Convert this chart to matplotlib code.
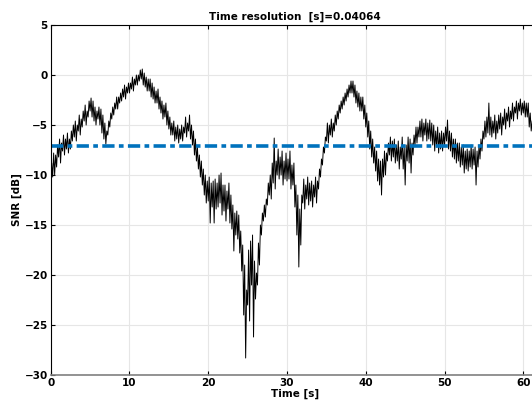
import matplotlib
matplotlib.use("Agg")
import matplotlib.pyplot as plt
import numpy as np

# SNR per 0.25 s frame: upper and lower extremes of the fine-resolution estimate
dt = 0.25
snr_hi = [
    -8.8, -7.8, -8.0, -7.0,   -6.4, -6.8, -6.0, -6.4,
    -5.8, -6.4, -5.6, -5.0,   -4.6, -5.0, -4.0, -4.4,
    -3.6, -3.0, -3.6, -2.6,   -2.3, -2.6, -3.2, -3.6,
    -3.2, -3.4, -4.0, -4.8,   -5.6, -4.6, -3.8, -3.2,
    -2.8, -2.2, -2.2, -1.8,   -1.4, -1.0, -1.2, -0.8,
    -0.8, -0.2, -0.4, 0.0,    0.0, 0.5, 0.6, 0.2,
    -0.2, -0.4, -0.4, -0.8,   -1.2, -1.6, -1.4, -2.2,
    -2.6, -3.0, -2.8, -3.6,   -4.2, -4.8, -4.6, -5.2,
    -5.0, -5.4, -5.0, -5.2,   -4.2, -4.8, -4.0, -5.0,
    -5.6, -6.4, -7.2, -8.0,   -8.6, -9.4, -10.0, -10.6,
    -10.2, -10.8, -10.6, -10.4,   -10.8, -10.0, -9.8, -11.0,
    -11.0, -11.6, -10.8, -12.0,   -13.0, -13.8, -13.6, -14.0,
    -15.6, -17.0, -19.0, -21.5,   -17.5, -16.6, -16.0, -18.6,
    -19.8, -16.8, -15.0, -13.8,   -13.0, -12.4, -10.8, -10.0,
    -8.8, -6.3, -8.6, -7.4,   -8.2, -7.6, -8.6, -7.8,
    -8.4, -7.6, -9.0, -8.8,   -11.0, -12.0, -13.4, -12.0,
    -10.4, -11.0, -10.2, -10.8,   -10.6, -11.0, -10.2, -10.6,
    -9.4, -8.4, -7.2, -6.2,   -4.8, -5.0, -4.4, -4.8,
    -4.0, -3.6, -3.0, -2.6,   -2.2, -1.8, -1.4, -1.0,
    -0.6, -0.6, -1.0, -1.6,   -1.8, -2.2, -2.2, -3.0,
    -3.8, -4.6, -5.6, -6.4,   -7.2, -7.6, -8.4, -8.6,
    -8.4, -7.6, -7.8, -6.8,   -6.2, -6.6, -6.4, -7.0,
    -6.6, -7.2, -6.2, -7.2,   -7.0, -6.2, -6.4, -6.8,
    -6.0, -5.2, -5.2, -4.6,   -4.4, -4.8, -4.4, -4.8,
    -4.5, -4.8, -5.0, -5.6,   -5.2, -5.8, -5.6, -5.8,
    -5.2, -4.5, -5.6, -5.8,   -6.4, -6.4, -6.8, -6.8,
    -7.2, -7.0, -7.6, -7.4,   -7.6, -7.0, -7.4, -7.2,
    -7.6, -7.0, -6.4, -5.6,   -4.6, -4.2, -2.8, -4.2,
    -4.6, -4.0, -4.6, -4.0,   -3.8, -4.2, -3.4, -3.8,
    -3.2, -3.6, -2.8, -3.2,   -2.6, -2.8, -2.4, -2.8,
    -2.6, -2.8, -2.8, -3.8,   -4.6,
]
snr_lo = [
    -11.2, -10.2, -10.0, -9.2,   -8.2, -8.8, -7.6, -8.0,
    -7.4, -7.8, -7.4, -6.6,   -6.2, -6.6, -5.6, -6.0,
    -5.2, -4.6, -5.0, -4.2,   -3.6, -4.2, -4.6, -5.0,
    -4.4, -5.0, -5.8, -6.4,   -6.9, -6.0, -5.2, -4.4,
    -4.0, -3.4, -3.4, -2.8,   -2.6, -2.2, -2.4, -1.8,
    -1.8, -1.4, -1.6, -1.0,   -1.0, -0.6, -0.4, -1.0,
    -1.2, -1.6, -1.6, -2.2,   -2.4, -2.8, -2.8, -3.4,
    -3.8, -4.4, -4.2, -5.0,   -5.4, -6.0, -6.0, -6.6,
    -6.4, -6.8, -6.4, -6.6,   -5.8, -6.2, -5.6, -6.4,
    -7.0, -8.0, -8.6, -9.4,   -10.2, -11.0, -12.0, -12.8,
    -12.6, -14.8, -13.2, -14.8,   -13.4, -13.2, -12.8, -14.0,
    -13.6, -14.6, -13.4, -14.8,   -15.4, -17.6, -16.0, -16.4,
    -17.8, -19.6, -24.0, -28.3,   -23.0, -24.6, -21.0, -26.2,
    -22.4, -21.0, -19.0, -16.0,   -14.6, -14.2, -13.0, -12.0,
    -12.4, -10.8, -11.4, -10.0,   -10.4, -10.0, -11.0, -10.4,
    -10.6, -10.4, -11.4, -11.0,   -13.2, -16.0, -19.2, -17.0,
    -12.8, -13.4, -12.4, -13.0,   -12.6, -13.2, -12.2, -12.8,
    -11.4, -10.2, -9.0, -7.8,   -6.6, -6.8, -6.0, -6.2,
    -5.6, -5.0, -4.4, -3.8,   -3.4, -3.0, -2.6, -2.2,
    -1.8, -1.8, -2.2, -2.8,   -3.2, -3.6, -3.6, -4.4,
    -5.2, -6.2, -7.4, -8.2,   -8.8, -9.6, -10.6, -11.0,
    -12.0, -10.2, -10.0, -8.6,   -8.0, -8.6, -8.2, -8.8,
    -8.6, -9.4, -8.4, -9.4,   -11.0, -8.6, -8.8, -9.8,
    -8.0, -7.0, -6.8, -6.2,   -6.2, -6.6, -6.0, -6.6,
    -6.4, -6.6, -7.0, -7.6,   -7.2, -7.8, -7.4, -7.6,
    -7.0, -6.6, -7.4, -7.6,   -8.2, -8.4, -8.8, -8.6,
    -9.2, -9.0, -9.8, -9.4,   -9.6, -9.2, -9.4, -9.0,
    -11.0, -9.2, -8.4, -7.6,   -6.4, -6.2, -5.8, -6.0,
    -6.2, -5.8, -6.4, -5.8,   -5.4, -6.0, -5.0, -5.4,
    -4.6, -5.2, -4.4, -4.6,   -3.8, -4.4, -3.6, -4.0,
    -3.8, -4.2, -4.2, -5.2,   -5.6,
]
mean_snr = -7.1
res_s = 0.04064

# zig-zag between the lower and upper value inside each frame
t0 = np.arange(len(snr_lo)) * dt
t = np.column_stack([t0, t0 + dt / 2]).ravel()
snr = np.column_stack([snr_lo, snr_hi]).ravel()

fig = plt.figure(figsize=(5.32, 4.01), dpi=100)
ax = fig.add_axes([0.0953, 0.0648, 0.918, 0.8728])

ax.plot(t, snr, color='black', lw=0.7)
ax.axhline(mean_snr, color='#0072BD', lw=2.6, dashes=(3.4, 1.2, 1.3, 1.2))

ax.set_xlim(0, 62)
ax.set_ylim(-30, 5)
ax.set_xticks(np.arange(0, 61, 10))
ax.set_yticks(np.arange(-30, 6, 5))
ax.grid(True, color='#e6e6e6', lw=0.8)
ax.set_axisbelow(True)
ax.tick_params(direction='in', length=3, labelsize=7.5, top=True, pad=2)
for lab in ax.get_xticklabels() + ax.get_yticklabels():
    lab.set_fontweight('bold')
ax.spines['bottom'].set_color('#808080')
ax.spines['bottom'].set_linewidth(1.2)

ax.set_xlabel('Time [s]', fontsize=7.5, fontweight='bold', labelpad=1)
ax.set_ylabel('SNR [dB]', fontsize=7.5, fontweight='bold', labelpad=2)
ax.set_title('Time resolution  [s]=%.5f' % res_s, fontsize=7.5, fontweight='bold', pad=4)

fig.savefig('out.png', dpi=100)
